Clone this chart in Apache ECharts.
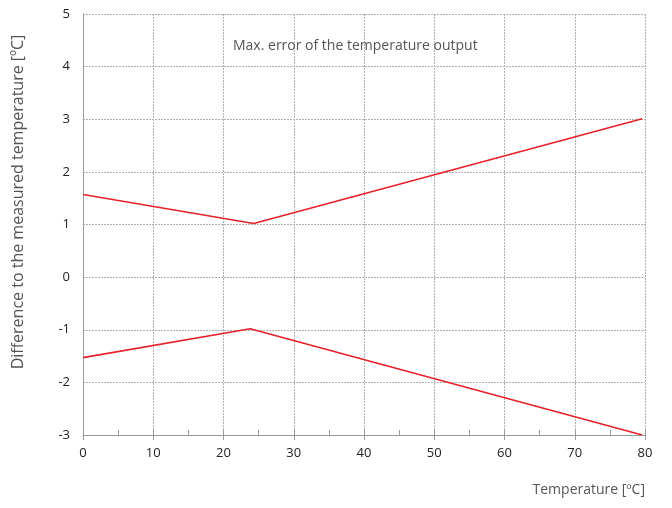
<!DOCTYPE html>
<html lang="en">
  <head>
    <meta charset="UTF-8" />
    <title>Max. error of the temperature output</title>
    <script src="https://cdn.jsdelivr.net/npm/echarts@6/dist/echarts.min.js"></script>
    <style>
      html, body { margin: 0; padding: 0; background: #fff; }
      #chart { width: 672px; height: 508px; }
    </style>
  </head>
  <body>
    <div id="chart"></div>
    <script>
      // upper / lower error bound, [temperature, difference]
      const upperBound = [[0, 1.57], [24.3, 1.02], [79.6, 3.01]];
      const lowerBound = [[0, -1.53], [23.8, -0.98], [79.6, -3.0]];
      const chartTitle = "Max. error of the temperature output";
      const xName = "Temperature [ºC]";
      const yName = "Difference to the measured temperature [ºC]";

      const chart = echarts.init(document.getElementById("chart"));
      const font = "'Open Sans', 'Noto Sans', sans-serif";

      chart.setOption({
        animation: false,
        title: {
          text: chartTitle,
          left: 228,
          top: 34,
          textStyle: { fontFamily: font, fontSize: 14, fontWeight: "normal", color: "#555" }
        },
        grid: { left: 83, right: 27, top: 14, bottom: 73 },
        xAxis: [
          {
            type: "value",
            min: 0,
            max: 80,
            interval: 10,
            axisLine: { onZero: false, lineStyle: { color: "#999" } },
            axisTick: { show: true, length: 5, lineStyle: { color: "#999" } },
            axisLabel: { fontFamily: font, fontSize: 13, color: "#222", margin: 12 },
            splitLine: { lineStyle: { color: "#b0b0b0", type: [2, 1] } }
          },
          {
            // inner ticks every 5
            type: "value",
            position: "bottom",
            min: 0,
            max: 80,
            interval: 5,
            axisLine: { show: false, onZero: false },
            axisTick: { show: true, inside: true, length: 5, lineStyle: { color: "#999" } },
            axisLabel: { show: false },
            splitLine: { show: false }
          }
        ],
        yAxis: {
          type: "value",
          min: -3,
          max: 5,
          interval: 1,
          axisLine: { show: true, onZero: false, lineStyle: { color: "#999" } },
          axisTick: { show: false },
          axisLabel: { fontFamily: font, fontSize: 13, color: "#222", margin: 13 },
          splitLine: { lineStyle: { color: "#b0b0b0", type: [2, 1] } }
        },
        graphic: [
          {
            type: "text",
            right: 27,
            top: 483,
            style: { text: xName, fontFamily: font, fontSize: 14, fill: "#555" }
          },
          {
            type: "text",
            x: 18,
            y: 202,
            rotation: Math.PI / 2,
            style: {
              text: yName, fontFamily: font, fontSize: 16, fill: "#555",
              align: "center", verticalAlign: "middle"
            },
            originX: 0, originY: 0
          }
        ],
        series: [
          {
            type: "line",
            data: upperBound,
            symbol: "none",
            lineStyle: { color: "#e8202a", width: 1.6 }
          },
          {
            type: "line",
            data: lowerBound,
            symbol: "none",
            lineStyle: { color: "#e8202a", width: 1.6 }
          }
        ]
      });
    </script>
  </body>
</html>
